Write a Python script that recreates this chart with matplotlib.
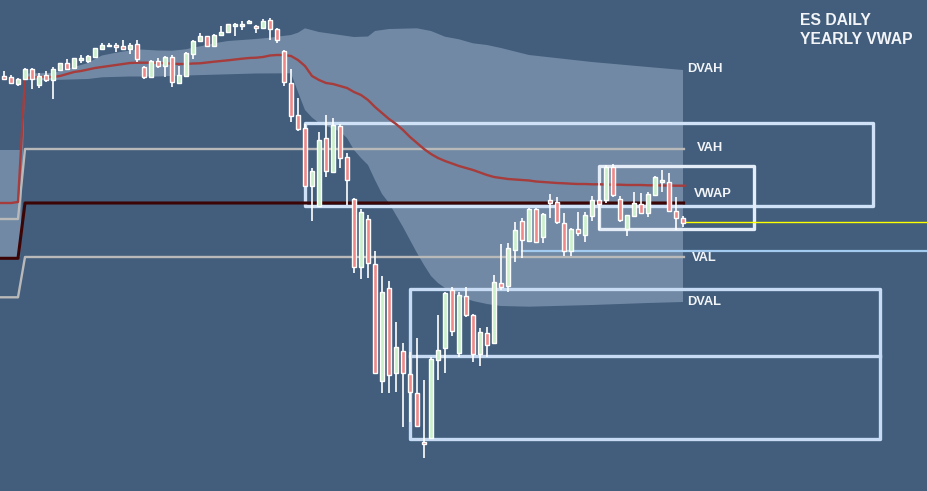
import numpy as np
import matplotlib
matplotlib.use("Agg")
import matplotlib.pyplot as plt
from matplotlib.patches import Rectangle

# ---------------- data (price units, arbitrary scale) ----------------
opens = [424, 423, 416, 421, 431, 415, 425, 420, 430, 437,
         432.3, 440, 439.3, 443.3, 451, 454.3, 455.3, 453.7, 450.7, 456,
         433.3, 422.7, 439, 434.3, 443.3, 416.7, 424, 445.7, 459.3, 463.7,
         453.7, 465, 468, 474.3, 474, 477, 474.3, 472.3, 480, 470.7,
         449, 416.7, 384.7, 371.7, 314.3, 294.3, 361.7, 327.7, 374.3, 343.3,
         300.7, 233.3, 280.7, 235.7, 119.3, 211.7, 127.3, 149.3, 125.7, 106.7,
         58.3, 62.3, 140, 151.7, 210, 146.7, 204.3, 185, 146, 167.3,
         156.7, 216.7, 214, 250, 279, 259, 291, 262.7, 300, 298.3,
         277.3, 249.3, 271, 265, 284.3, 300, 300, 332.7, 300.7, 271,
         284.3, 296, 286.7, 305, 318.3, 318.3, 289.3, 281.7]
highs = [429, 425, 422, 432, 432.5, 427, 429, 433.3, 437.3, 440.7,
         442, 445, 445, 452.3, 457.3, 456.7, 457.3, 460, 456.7, 460,
         434.5, 440, 441.7, 444.3, 445, 434.3, 447.7, 460, 466.7, 464.3,
         465.7, 474, 476, 476.7, 479, 480, 475, 481, 481.7, 471.7,
         450, 430.7, 401.7, 376, 331.7, 367.7, 385, 381.7, 376, 346.7,
         301.7, 290.7, 285, 249, 224, 219, 177.7, 156.7, 148, 161.7,
         120, 142.7, 185, 208.3, 212.7, 207.7, 212.7, 185.7, 171.7, 172.7,
         225, 256, 257.3, 277.7, 281.7, 292, 291.7, 287, 306, 303.3,
         286.7, 271.7, 288.3, 288.3, 304.3, 316.7, 335, 336, 304, 285,
         307.7, 306.7, 308.3, 324, 330, 326.7, 302.7, 284]
lows = [421, 416, 414, 420, 411, 412, 418, 401, 429, 430.7,
        432, 436.7, 437.3, 442.7, 450.7, 453.3, 448.3, 450.7, 446, 438.3,
        421.3, 421.7, 431.7, 423.3, 413.3, 416, 422.7, 441, 458.3, 452.7,
        452.7, 464.3, 467.3, 464.3, 470, 476.7, 466.7, 471.7, 460, 456.7,
        414.3, 377.7, 369, 313.3, 279, 293.3, 323.3, 326.7, 332.3, 295,
        227.3, 220.7, 222.3, 125.7, 107.3, 106.7, 107.7, 73.3, 78.3, 74,
        41.7, 61.7, 120, 126.7, 164.3, 142.7, 183.3, 138.3, 134.3, 143.3,
        156.7, 210, 208.3, 238.3, 241.7, 258.3, 256.7, 257, 282.3, 276,
        244, 244, 264, 258.3, 279.3, 270, 296.7, 303.3, 278.3, 264,
        283.3, 286, 283.3, 304.3, 308.3, 288, 270, 273.3]
closes = [421.3, 417, 421, 431, 421, 424, 420, 431, 437, 431.5,
          441.7, 442.3, 444, 451.7, 455, 455.3, 452.7, 451.3, 455.3, 441,
          423.3, 439, 434.3, 443.3, 417.7, 425, 446.7, 459, 464.3, 453.7,
          465, 467.7, 475.7, 476, 476, 479.3, 471.7, 479, 470.7, 460,
          417.7, 384.3, 370.7, 314.3, 329, 360, 329.3, 374.7, 341.7, 320,
          233.3, 287.7, 236.7, 126.7, 207.7, 125, 152.7, 126.7, 107.7, 74.3,
          56, 141, 150, 206.7, 169.3, 205, 185, 146, 168.3, 155,
          217.7, 213.3, 251.7, 270, 260, 291, 257.7, 285.7, 297.3, 277.7,
          249.3, 271, 267.3, 285, 300, 296, 333.3, 305, 280, 284.7,
          296.7, 286.7, 306, 323.3, 320, 289, 281.7, 277.3]

# yearly VWAP (first three values: previous year's VWAP)
vwap = [297, 297, 298, 422, 422.5, 423, 423, 423, 424, 426,
        428, 429, 430.5, 432, 433, 434, 435, 436, 437, 437.3,
        437.3, 437.3, 437, 436.7, 436.3, 436, 436, 436.5, 436.7, 437.5,
        438.3, 439, 439.7, 440.5, 441.3, 442, 442.3, 443, 444.5, 445,
        445, 444, 440, 434, 424, 420, 417, 416, 414, 412,
        408, 405, 400, 393, 387, 381, 376, 370, 363, 357,
        351, 346, 342, 339, 336.5, 334, 332, 330, 327.5, 325,
        323, 322, 321, 320.5, 320, 319.5, 318.5, 318, 317.5, 317,
        316.7, 316.3, 316, 316, 315.7, 315.7, 315.5, 315.3, 315.3, 315,
        315, 315, 314.7, 314.7, 314.5, 314.5, 314.3, 314.3]

# value area levels: [previous year, current year]
vah_levels = [281, 351]
val_levels = [202.7, 243]
poc_levels = [241.7, 297]
year_start = 3

# deviation band of the VWAP
band_prev = [350, 243]  # previous-year band top / bottom
band_top_idx = [3, 7, 8, 10, 12, 13, 14, 16, 18, 19, 22, 24, 26, 27, 29, 30, 32, 34, 36, 38,
                39, 41, 42, 43, 45, 47, 50, 52, 53, 55, 59, 61, 63, 65, 67, 69, 71, 75, 84, 92, 97]
band_top = [426.5, 427, 429, 433, 437, 441, 444.5, 447.3, 449.5, 450.7, 449.5, 449.3, 450.7,
            452.3, 455, 456.7, 459, 460, 461, 462.3, 463.3, 465, 467.3, 471.7, 468, 466, 463,
            463.5, 469, 471, 471.7, 469, 463.3, 460.7, 456.7, 455, 452, 445, 438, 433, 430]
band_bot_idx = [3, 7, 12, 14, 18, 22, 26, 31, 36, 41, 42, 43, 44, 45, 46, 47, 48, 49, 50, 51,
                52, 53, 54, 55, 56, 57, 58, 59, 60, 61, 62, 63, 65, 67, 69, 71, 75, 84, 92, 97]
band_bot = [420, 420, 421, 422.7, 423.5, 423.5, 424.5, 425.5, 426.5, 426.7, 408, 390, 382.5,
            377, 374, 371.5, 368.5, 362, 350, 342, 335, 320, 306, 297, 285, 273, 260, 247,
            235, 224, 217, 212, 204, 199, 196, 194, 193.3, 195, 197, 198]

# ---------------- style ----------------
BG = "#425e7c"
BAND = "#7189a4"
UP = "#c9f0c9"
DOWN = "#f08888"
TXT = "#f2f4f7"

fig = plt.figure(figsize=(9.28, 4.91), dpi=100, facecolor=BG)
ax = fig.add_axes([0, 0, 1, 1])
ax.set_facecolor(BG)
ax.set_xlim(-4 / 7, 924 / 7)
ax.set_ylim(9, 500)
ax.axis("off")

n = len(opens)
idx = np.arange(n)
x_left = -4 / 7
x_end = n - 1 + 0.3

# band polygon
tx = [x_left, year_start - 0.7] + band_top_idx
ty = [band_prev[0], band_prev[0]] + band_top
bx = band_bot_idx[::-1] + [year_start - 0.7, x_left]
by = band_bot[::-1] + [band_prev[1], band_prev[1]]
ax.fill(tx + bx, ty + by, color=BAND, lw=0, zorder=1)

# value-area / poc step lines
def level_line(levels, color, lw):
    xs = [x_left, year_start - 1, year_start, x_end]
    ys = [levels[0], levels[0], levels[1], levels[1]]
    ax.plot(xs, ys, color=color, lw=lw, zorder=3, solid_capstyle="butt")

level_line(vah_levels, "#b9b9b9", 1.7)
level_line(val_levels, "#b9b9b9", 1.7)
level_line(poc_levels, "#3c0505", 2.2)

# VWAP line
ax.plot(np.r_[x_left, idx, x_end], np.r_[vwap[0], vwap, vwap[-1]],
        color="#a63c3c", lw=1.7, zorder=3)

# boxes
def box(x0, x1, y0, y1, color):
    ax.add_patch(Rectangle((x0, y0), x1 - x0, y1 - y0, fill=False, ec=color,
                           lw=2.4, joinstyle="round", zorder=2.5))

box(43.0, 124.1, 294, 377, "#cfe2f8")
box(85.0, 107.1, 271, 334, "#e3ecf7")
box(58.0, 125.1, 61, 211, "#c7dcf4")
ax.plot([58.0, 125.1], [144, 144], color="#c7dcf4", lw=2.4, zorder=2.5)
ax.plot([74.0, 132.5], [249.3, 249.3], color="#a3cbef", lw=1.6, zorder=2.5)
ax.plot([97.0, 132.5], [278, 278], color="#ffff00", lw=1.0, zorder=2.5)

# candles
o = np.array(opens); c = np.array(closes)
h = np.array(highs); l = np.array(lows)
up = c >= o
ax.vlines(idx, l, h, color="white", lw=1.2, zorder=4)
body_b = np.minimum(o, c)
body_h = np.maximum(np.abs(c - o), 1.2)
ax.bar(idx, body_h, bottom=body_b, width=0.68,
       color=np.where(up, UP, DOWN), edgecolor="white", linewidth=1.0, zorder=5)

# labels
lab = dict(color=TXT, fontsize=9.3, fontweight="bold", family="Liberation Sans",
           va="center", ha="left", zorder=6)
ax.text(97.6, 431.5, "DVAH", **lab)
ax.text(99.0, 352.5, "VAH", **lab)
ax.text(98.6, 306, "VWAP", **lab)
ax.text(98.3, 242, "VAL", **lab)
ax.text(97.6, 198, "DVAL", **lab)

ttl = dict(color=TXT, fontsize=11.3, fontweight="bold", family="Liberation Sans",
           va="center", ha="left", zorder=6)
ax.text(113.7, 480, "ES DAILY", **ttl)
ax.text(113.7, 461, "YEARLY VWAP", **ttl)

fig.savefig("out.png", dpi=100, facecolor=BG)
